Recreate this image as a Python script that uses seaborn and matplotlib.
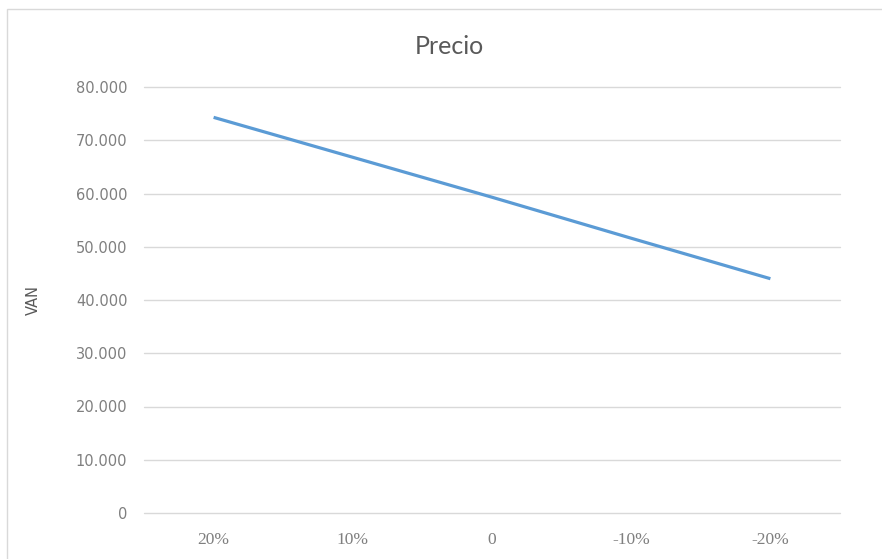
import matplotlib
matplotlib.use("Agg")
import matplotlib.pyplot as plt
import matplotlib.ticker as mticker
from matplotlib.patches import Rectangle
import seaborn as sns
import pandas as pd

# Sensitivity of VAN to price variation
variacion = ["20%", "10%", "0", "-10%", "-20%"]
van = [74300, 66800, 59300, 51600, 44000]
y_ticks = [0, 10000, 20000, 30000, 40000, 50000, 60000, 70000, 80000]

df = pd.DataFrame({"Variación": variacion, "VAN": van})

sns.set_theme(style="white")
plt.rcParams["font.family"] = ["DejaVu Sans"]

fig = plt.figure(figsize=(8.82, 5.59), dpi=100)
ax = fig.add_axes([144 / 882, 1 - 513 / 559, 696 / 882, 426 / 559])

sns.lineplot(data=df, x="Variación", y="VAN", sort=False, ax=ax,
             color="#5B9BD5", linewidth=2.3, solid_capstyle="butt")

ax.set_xlim(-0.5, len(variacion) - 0.5)
ax.set_ylim(0, 80000)
ax.set_yticks(y_ticks)
ax.yaxis.set_major_formatter(
    mticker.FuncFormatter(lambda v, _: f"{int(v):,}".replace(",", ".")))
ax.grid(axis="y", color="#D9D9D9", linewidth=1.0)
for gl in ax.get_ygridlines():
    gl.set_clip_on(False)
ax.set_axisbelow(True)
for s in ax.spines.values():
    s.set_visible(False)

ax.tick_params(axis="y", length=0, pad=12, labelsize=10.5, labelcolor="#7F7F7F")
ax.tick_params(axis="x", length=0, pad=14, labelsize=12.5, labelcolor="#7F7F7F")
for lbl in ax.get_xticklabels():
    lbl.set_fontfamily("Liberation Serif")

ax.set_xlabel("")
ax.set_ylabel("")
fig.text(33 / 882, 1 - 300 / 559, "VAN", rotation=90, ha="center", va="center",
         fontsize=10.5, color="#595959")

fig.text(449 / 882, 1 - 47 / 559, "Precio", ha="center", va="center",
         fontsize=18, color="#595959", family=["Lato", "DejaVu Sans"])

# chart area border
fig.patches.append(Rectangle((6.5 / 882, -0.1), 1.2, 1 - 9.5 / 559 + 0.1,
                             transform=fig.transFigure, fill=False,
                             edgecolor="#D9D9D9", linewidth=1.0))

fig.savefig("out.png", dpi=100, facecolor="white")
